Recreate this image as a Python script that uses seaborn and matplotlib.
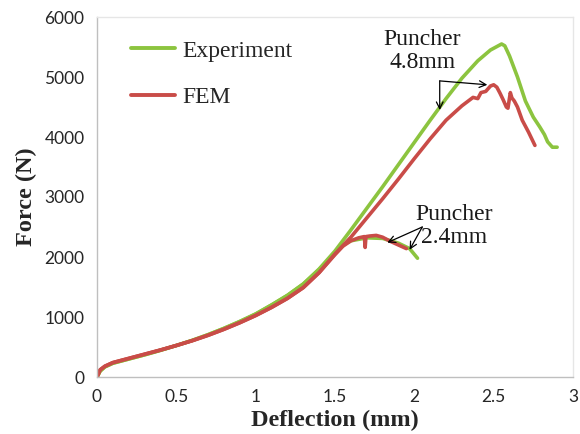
import matplotlib
matplotlib.use("Agg")
import matplotlib.pyplot as plt
import seaborn as sns
import pandas as pd

# ---- data ----
exp48_x = [0, 0.02, 0.05, 0.1, 0.2, 0.3, 0.4, 0.5, 0.6, 0.7, 0.8, 0.9, 1.0, 1.1, 1.2, 1.3, 1.4, 1.5,
           1.6, 1.7, 1.8, 1.9, 2.0, 2.1, 2.2, 2.3, 2.4, 2.48, 2.55, 2.57, 2.6, 2.65, 2.7, 2.75,
           2.79, 2.82, 2.84, 2.87, 2.9]
exp48_y = [0, 100, 170, 230, 300, 370, 445, 525, 610, 705, 810, 925, 1050, 1200, 1360, 1550, 1800, 2100,
           2450, 2810, 3170, 3540, 3910, 4280, 4640, 4980, 5270, 5450, 5550, 5520, 5350, 5000, 4600, 4330,
           4170, 4040, 3920, 3830, 3830]

exp24_x = [0, 0.02, 0.05, 0.1, 0.2, 0.3, 0.4, 0.5, 0.6, 0.7, 0.8, 0.9, 1.0, 1.1, 1.2, 1.3, 1.4, 1.5,
           1.55, 1.6, 1.7, 1.8, 1.9, 1.97, 2.02]
exp24_y = [0, 100, 170, 230, 300, 370, 445, 525, 610, 705, 810, 925, 1050, 1200, 1360, 1550, 1790, 2070,
           2200, 2270, 2320, 2310, 2230, 2140, 1980]

fem48_x = [0, 0.02, 0.05, 0.1, 0.2, 0.3, 0.4, 0.5, 0.6, 0.7, 0.8, 0.9, 1.0, 1.1, 1.2, 1.3, 1.4, 1.5,
           1.6, 1.7, 1.8, 1.9, 2.0, 2.1, 2.2, 2.3, 2.37, 2.40, 2.42, 2.45, 2.48, 2.50, 2.52, 2.54,
           2.56, 2.58, 2.59, 2.605, 2.615, 2.63, 2.65, 2.68, 2.72, 2.76]
fem48_y = [0, 120, 180, 240, 310, 380, 450, 525, 605, 695, 795, 905, 1025, 1160, 1310, 1490, 1740, 2050,
           2330, 2650, 2970, 3300, 3640, 3970, 4280, 4520, 4660, 4640, 4740, 4760, 4850, 4870, 4830, 4730,
           4620, 4500, 4480, 4740, 4650, 4600, 4500, 4280, 4080, 3860]

fem24_x = [0, 0.02, 0.05, 0.1, 0.2, 0.3, 0.4, 0.5, 0.6, 0.7, 0.8, 0.9, 1.0, 1.1, 1.2, 1.3, 1.4, 1.5,
           1.55, 1.6, 1.65, 1.685, 1.69, 1.695, 1.72, 1.76, 1.8, 1.85, 1.9, 1.95]
fem24_y = [0, 120, 180, 240, 310, 380, 450, 525, 605, 695, 795, 905, 1025, 1160, 1310, 1490, 1740, 2040,
           2180, 2270, 2320, 2340, 2160, 2340, 2350, 2360, 2330, 2260, 2200, 2140]

x_ticks = [0, 0.5, 1, 1.5, 2, 2.5, 3]
x_tick_labels = ["0", "0.5", "1", "1.5", "2", "2.5", "3"]
y_ticks = [0, 1000, 2000, 3000, 4000, 5000, 6000]
series_names = ["Experiment", "FEM"]

GREEN = "#8cc43f"
RED = "#c94c48"
AXIS = "#bfbfbf"

sns.set_theme(style="white")
plt.rcParams["font.family"] = ["Lato", "DejaVu Sans"]

fig = plt.figure(figsize=(5.8, 4.34), dpi=100)
ax = fig.add_axes([97 / 580, 1 - 377 / 434, (573 - 97) / 580, (377 - 17) / 434])

lw = 2.6
kw = dict(sort=False, lw=lw, ax=ax, solid_joinstyle="round", solid_capstyle="round")
sns.lineplot(x=exp48_x, y=exp48_y, color=GREEN, label=series_names[0], **kw)
sns.lineplot(x=exp24_x, y=exp24_y, color=GREEN, **kw)
sns.lineplot(x=fem48_x, y=fem48_y, color=RED, label=series_names[1], **kw)
sns.lineplot(x=fem24_x, y=fem24_y, color=RED, **kw)

ax.set_xlim(0, 3)
ax.set_ylim(0, 6000)
ax.set_xticks(x_ticks)
ax.set_xticklabels(x_tick_labels)
ax.set_yticks(y_ticks)
ax.tick_params(axis="both", which="both", labelsize=12.5, colors="#262626",
               length=5, width=1, direction="out", color=AXIS, pad=4)
for s in ax.spines.values():
    s.set_color(AXIS)
    s.set_linewidth(1.0)
    s.set_visible(True)
ax.spines["top"].set_color("#e6e6e6")
ax.spines["right"].set_color("#e6e6e6")

serif = ["Liberation Serif", "DejaVu Serif"]
ax.set_xlabel("Deflection (mm)", family=serif, fontweight="bold", fontsize=17.5, labelpad=3)
ax.set_ylabel("Force (N)", family=serif, fontweight="bold", fontsize=17.5, labelpad=5)

leg = ax.legend(loc="upper left", bbox_to_anchor=(0.052, 0.962), borderaxespad=0, frameon=False,
                prop={"family": serif, "size": 17}, handlelength=1.85, labelspacing=1.05,
                handletextpad=0.3)
for h in leg.get_lines():
    h.set_linewidth(2.8)

# annotations
ax.text(2.05, 5430, "Puncher\n4.8mm", family=serif, fontsize=17, ha="center", va="center",
        linespacing=1.1, color="#1a1a1a")
ap = dict(arrowstyle="->", color="black", lw=0.9, shrinkA=0, shrinkB=0)
ax.annotate("", xy=(2.46, 4870), xytext=(2.16, 4935), arrowprops=ap)
ax.annotate("", xy=(2.16, 4450), xytext=(2.16, 4935), arrowprops=ap)

ax.text(2.25, 2520, "Puncher\n2.4mm", family=serif, fontsize=17, ha="center", va="center",
        linespacing=1.1, color="#1a1a1a")
ax.annotate("", xy=(1.83, 2240), xytext=(2.05, 2500), arrowprops=ap)
ax.annotate("", xy=(1.97, 2120), xytext=(2.05, 2500), arrowprops=ap)

fig.savefig("out.png", dpi=100)
